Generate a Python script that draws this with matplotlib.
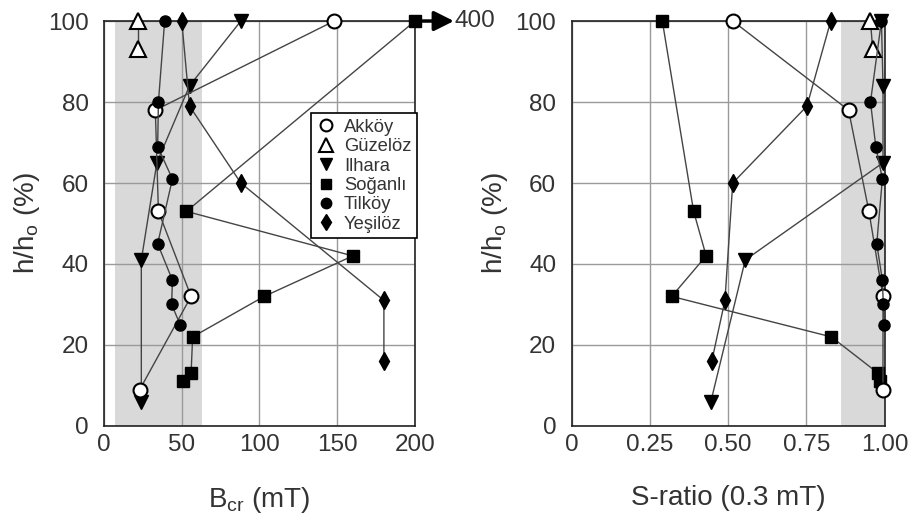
import matplotlib
matplotlib.use("Agg")
import matplotlib.pyplot as plt
from matplotlib.lines import Line2D

plt.rcParams['font.family'] = ['Liberation Sans', 'DejaVu Sans']
plt.rcParams['mathtext.fontset'] = 'custom'
plt.rcParams['mathtext.rm'] = 'Liberation Sans'

# ---- Data (h/h0 in %, Bcr in mT, S-ratio) ----
akkoy_h = [100, 78, 53, 32, 9]
akkoy_bcr = [148, 33, 35, 56, 23]
akkoy_s = [0.515, 0.885, 0.95, 0.995, 0.995]

guzeloz_h = [100, 93]
guzeloz_bcr = [22, 22]
guzeloz_s = [0.955, 0.962]

ilhara_h = [100, 84, 65, 41, 6]
ilhara_bcr = [88, 55, 34, 24, 24]
ilhara_s = [0.99, 0.995, 0.995, 0.555, 0.445]

soganli_h = [100, 53, 42, 32, 22, 13, 11]
soganli_bcr = [200, 53, 160, 103, 57, 56, 51]
soganli_s = [0.29, 0.39, 0.43, 0.32, 0.83, 0.98, 0.985]
soganli_top_true = 400

tilkoy_h = [100, 80, 69, 61, 45, 36, 30, 25]
tilkoy_bcr = [39, 35, 34.5, 44, 34.5, 44, 43.5, 49]
tilkoy_s = [0.99, 0.955, 0.972, 0.993, 0.975, 0.993, 0.996, 0.999]

yesiloz_h = [100, 79, 60, 31, 16]
yesiloz_bcr = [50, 55, 88, 180, 180]
yesiloz_s = [0.828, 0.752, 0.515, 0.49, 0.448]

bcr_band = (7, 63)
s_band = (0.862, 1.0)

series = [
    ("Akköy", akkoy_h, akkoy_bcr, akkoy_s, dict(marker='o', ms=10, mfc='white', mec='black', mew=1.5), 3.2),
    ("Güzelöz", guzeloz_h, guzeloz_bcr, guzeloz_s, dict(marker='^', ms=11, mfc='white', mec='black', mew=1.5), 3.4),
    ("Ilhara", ilhara_h, ilhara_bcr, ilhara_s, dict(marker='v', ms=9.5, mfc='black', mec='black', mew=1), 2.8),
    ("Soğanlı", soganli_h, soganli_bcr, soganli_s, dict(marker='s', ms=8.5, mfc='black', mec='black', mew=1), 3.0),
    ("Tilköy", tilkoy_h, tilkoy_bcr, tilkoy_s, dict(marker='o', ms=8, mfc='black', mec='black', mew=1), 3.5),
    ("Yeşilöz", yesiloz_h, yesiloz_bcr, yesiloz_s, dict(marker='d', ms=9, mfc='black', mec='black', mew=1), 3.0),
]

fig = plt.figure(figsize=(9.22, 5.23), dpi=100)
ax1 = fig.add_axes([0.1128, 0.1855, 0.3373, 0.7743])
ax2 = fig.add_axes([0.6199, 0.1855, 0.3395, 0.7743])

txt_color = '#333333'
line_color = '#444444'

def style_axis(ax, xlim, xticks, xticklabels, xlabel, band):
    ax.set_xlim(*xlim)
    ax.set_ylim(0, 100)
    ax.axvspan(band[0], band[1], color='#d9d9d9', zorder=0, lw=0)
    ax.set_xticks(xticks)
    ax.set_xticklabels(xticklabels)
    ax.set_yticks([0, 20, 40, 60, 80, 100])
    ax.grid(True, color='#9a9a9a', lw=1.0, zorder=0.5)
    ax.set_axisbelow(True)
    ax.tick_params(axis='both', length=0, labelsize=17.5, colors=txt_color)
    ax.tick_params(axis='y', pad=11)
    ax.tick_params(axis='x', pad=6)
    for s in ax.spines.values():
        s.set_color('#222222')
        s.set_linewidth(1.2)
    ax.set_xlabel(xlabel, fontsize=20, color=txt_color, labelpad=21)
    ax.set_ylabel(r'h/h$_\mathregular{o}$ (%)', fontsize=20, color=txt_color, labelpad=4)

style_axis(ax1, (0, 200), [0, 50, 100, 150, 200], ['0', '50', '100', '150', '200'],
           r'B$_\mathregular{cr}$ (mT)', bcr_band)
style_axis(ax2, (0, 1.0), [0, 0.25, 0.5, 0.75, 1.0], ['0', '0.25', '0.50', '0.75', '1.00'],
           'S-ratio (0.3 mT)', s_band)

for name, h, bcr, s, mk, z in series:
    ax1.plot(bcr, h, color=line_color, lw=1.0, clip_on=False, zorder=z, label=name, **mk)
    ax2.plot(s, h, color=line_color, lw=1.0, clip_on=False, zorder=z, **mk)

# arrow for off-scale Soğanlı value
x0 = soganli_bcr[0]
ax1.annotate('', xy=(x0 + 25, soganli_h[0]), xytext=(x0, soganli_h[0]),
             arrowprops=dict(arrowstyle='-|>', lw=2.5, color='black', mutation_scale=30,
                             shrinkA=0, shrinkB=0),
             annotation_clip=False, zorder=4)
ax1.text(x0 + 25.5, soganli_h[0], str(soganli_top_true), fontsize=17.5, color=txt_color,
         va='center', ha='left', clip_on=False)

leg_handles = []
leg_ms = {'o': 8.5, '^': 10.5, 'v': 8.5, 's': 7.5, 'd': 8.5}
for name, h, bcr, s, mk, z in series:
    m = dict(mk)
    m['ms'] = 7.5 if name == 'Tilköy' else leg_ms[m['marker']]
    leg_handles.append(Line2D([], [], ls='none', **m))
leg = ax1.legend(leg_handles, [s[0] for s in series], loc='upper right',
                 bbox_to_anchor=(1.006, 0.772), fontsize=13.2, frameon=True, fancybox=False,
                 edgecolor='black', framealpha=1, handlelength=1.0, handletextpad=0.5,
                 labelspacing=0.13, borderpad=0.3, borderaxespad=0)
leg.get_frame().set_linewidth(1.2)
for t in leg.get_texts():
    t.set_color(txt_color)
leg.set_zorder(5)

fig.savefig('out.png', dpi=100)
